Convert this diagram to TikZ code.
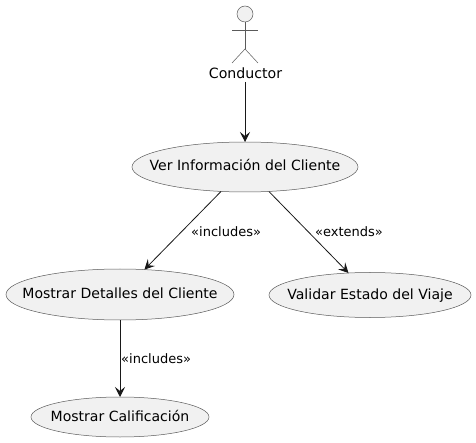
\documentclass[tikz,border=0pt]{standalone}
\usepackage{fontspec}
\setmainfont{DejaVu Sans}
\usetikzlibrary{shapes.geometric,arrows.meta}
\definecolor{usefill}{HTML}{F1F1F1}
\definecolor{useline}{HTML}{5A5A5A}
\definecolor{linkcol}{HTML}{181818}
\newcommand{\ucText}[1]{\raisebox{-4pt}[0pt][0pt]{\makebox[0pt][c]{#1}}}
\tikzset{
  x=1pt,y=-1pt,
  usecase/.style={ellipse,draw=useline,fill=usefill,line width=0.5pt,inner sep=0pt,outer sep=0pt,font=\fontsize{14.05}{16}\selectfont,text=black},
  link/.style={draw=linkcol,line width=0.8pt,-{Stealth[length=10pt,width=10pt,inset=4pt]}},
  lbl/.style={font=\fontsize{13}{15}\selectfont,text=black,inner sep=0pt},
  actorline/.style={draw=useline,line width=0.5pt}
}
\begin{document}
\begin{tikzpicture}
\useasboundingbox (0,0) rectangle (476,443);
\node[circle,draw=useline,fill=usefill,line width=0.5pt,minimum size=16pt,inner sep=0pt] (head) at (245,14) {};
\coordinate (hip) at (245,49);
\coordinate (armL) at (232,30);
\coordinate (armR) at (258,30);
\coordinate (legL) at (232,63);
\coordinate (legR) at (258,63);
\draw[actorline] (head.south) -- (hip);
\draw[actorline] (armL) -- (armR);
\draw[actorline] (legL) -- (hip) -- (legR);
\node[font=\fontsize{14.15}{16}\selectfont,inner sep=0pt,minimum height=14pt] (cond) at (245.5,73) {Conductor};
\node[usecase,minimum width=226pt,minimum height=50pt] (ver) at (245,167) {\ucText{Ver Información del Cliente}};
\node[usecase,minimum width=228pt,minimum height=51pt] (det) at (120,294.5) {\ucText{Mostrar Detalles del Cliente}};
\node[usecase,minimum width=202pt,minimum height=45pt] (val) at (370,295) {\ucText{Validar Estado del Viaje}};
\node[usecase,minimum width=178pt,minimum height=40pt] (cal) at (120,417) {\ucText{Mostrar Calificación}};
\coordinate (cs) at (245,82);
\draw[link] (cs) -- (ver);
\draw[link] (ver) -- (det);
\draw[link] (ver) -- (val);
\draw[link] (det) -- (cal);
\node[lbl,anchor=west] (l1) at (191,231.5) {«includes»};
\node[lbl,anchor=west] (l2) at (315,231.5) {«extends»};
\node[lbl,anchor=west] (l3) at (121,358.5) {«includes»};
\end{tikzpicture}
\end{document}
